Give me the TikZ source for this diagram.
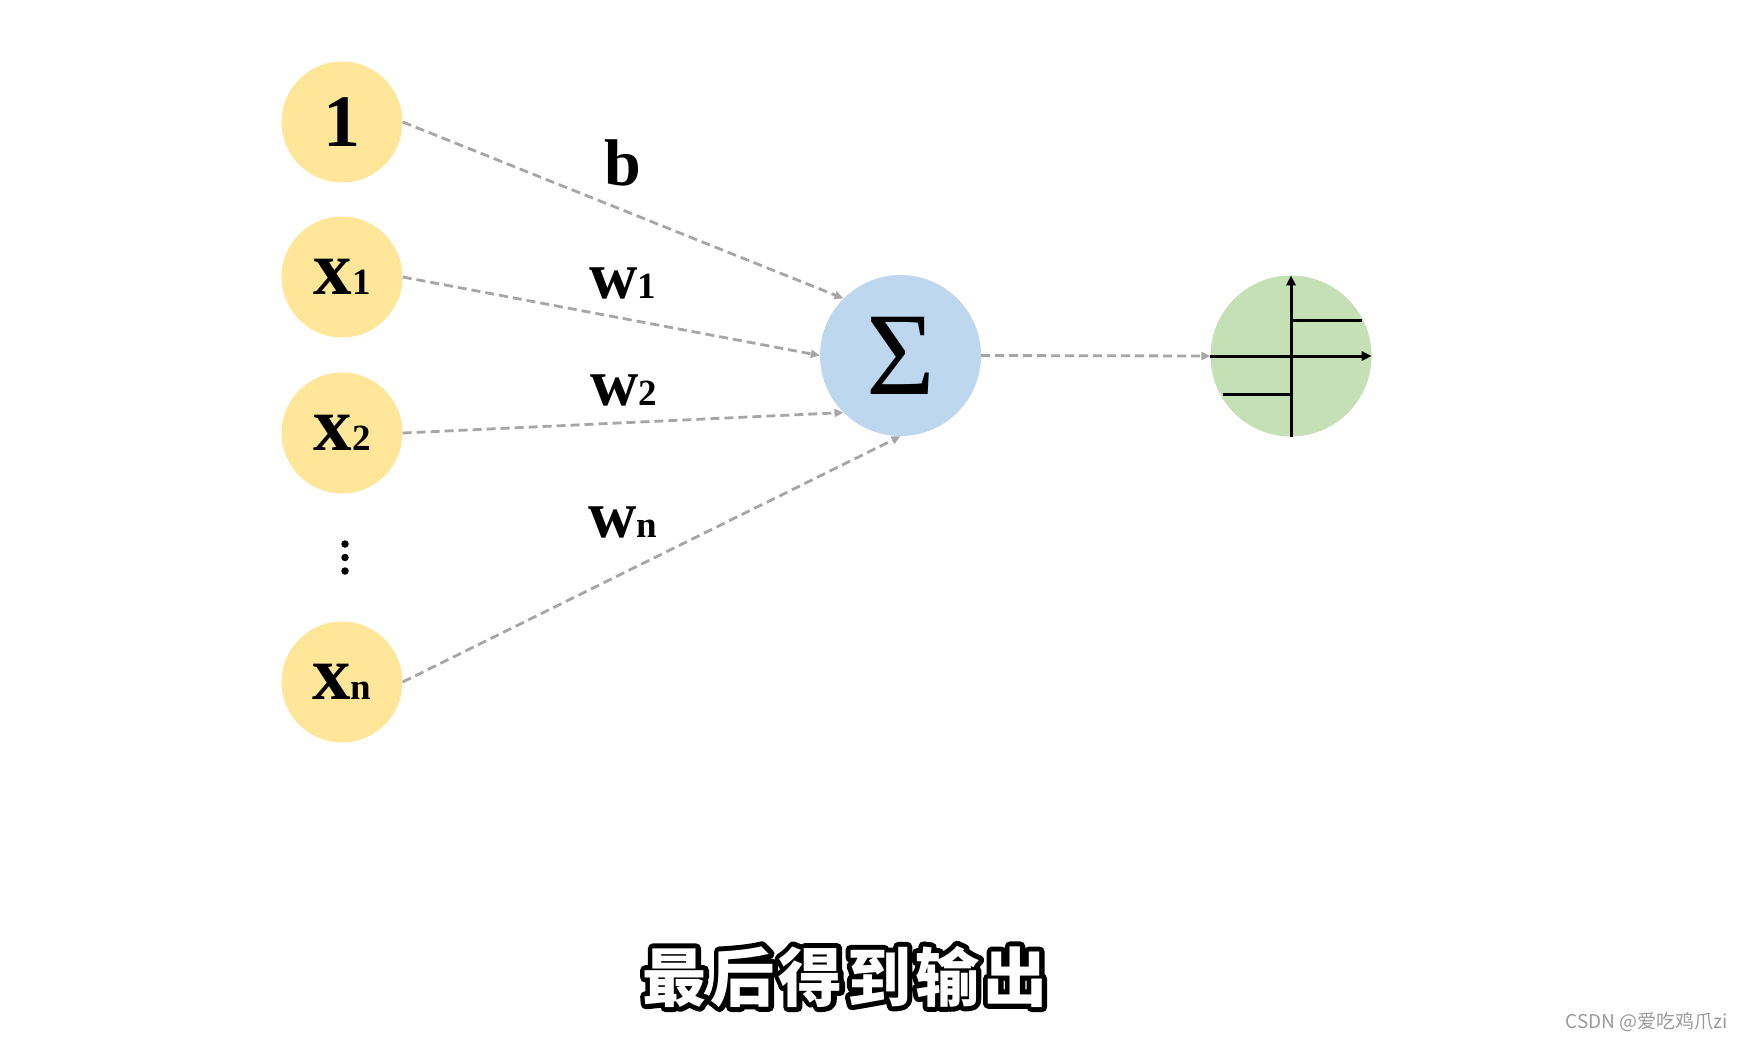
\documentclass[tikz,border=0pt]{standalone}
\usepackage{fontspec}
\setmainfont{Liberation Serif}
\newfontfamily\cjk{Noto Sans CJK SC}
\newfontfamily\cjkwide{Noto Sans CJK SC}[LetterSpace=6.5]
\usetikzlibrary{arrows.meta}
\definecolor{nodeyellow}{HTML}{FFE699}
\definecolor{nodeblue}{HTML}{BDD7EE}
\definecolor{nodegreen}{HTML}{C5E0B4}
\definecolor{conngray}{HTML}{A6A6A6}
\definecolor{markgray}{HTML}{9A9A9A}
\newcommand\fsz[1]{\fontsize{#1}{#1}\selectfont}
\newcommand\subs[1]{{\fsz{37}#1}}
\newcommand\outlinedtext[1]{\special{pdf:literal direct q 2 Tr 10 w 1 j 1 J 0 g 0 G}#1\special{pdf:literal direct Q}}
\begin{document}
\begin{tikzpicture}[x=1pt,y=-1pt,
  inp/.style={circle, fill=nodeyellow, minimum size=121pt, inner sep=0pt, font=\bfseries\fsz{77}},
  sumnode/.style={circle, fill=nodeblue, minimum size=161pt, inner sep=0pt, font=\fsz{118}},
  actnode/.style={circle, fill=nodegreen, minimum size=161pt, inner sep=0pt},
  lbl/.style={anchor=base, inner sep=0pt, font=\bfseries\fsz{67}},
  conn/.style={draw=conngray, line width=2.8pt, dash pattern=on 9pt off 5pt, -{Triangle[length=9pt,width=8pt]}},
  axis/.style={line width=3pt, -{Triangle[length=10pt,width=9pt]}},
  stepline/.style={line width=3pt},
  vdot/.style={circle, fill=black, minimum size=7.5pt, inner sep=0pt},
  subtitle/.style={inner sep=0pt, font=\cjkwide\bfseries\fsz{64}},
  wmark/.style={inner sep=0pt, font=\cjk\fsz{19}, text=markgray}]
\useasboundingbox (0,0) rectangle (1744,1042);
% input nodes
\node[inp] (one) at (342,122) {\fsz{74}1};
\node[inp] (x1) at (342,277) {x\subs{1}};
\node[inp] (x2) at (342,433) {x\subs{2}};
\node[inp] (xn) at (342,682) {x\subs{n}};
\node[vdot] (d1) at (345,544) {};
\node[vdot] (d2) at (345,557.5) {};
\node[vdot] (d3) at (345,571) {};
% sum and activation
\node[sumnode] (sum) at (900.5,355.5) {Σ};
\node[actnode] (act) at (1291,356) {};
% connectors
\draw[conn] (one.east) -- (sum.135);
\draw[conn] (x1.east) -- (sum.west);
\draw[conn] (x2.east) -- (sum.225);
\draw[conn] (xn.east) -- (sum.south);
\draw[conn] (sum.east) -- (act.west);
% labels
\node[lbl, font=\bfseries\fsz{66}] (lb) at (623,185) {b};
\node[lbl] (lw1) at (623,298) {w\subs{1}};
\node[lbl] (lw2) at (624,405) {w\subs{2}};
\node[lbl] (lwn) at (623,537) {w\subs{n}};
% step function inside activation
\draw[axis] (act.south) -- (act.north);
\draw[axis] (act.west) -- (act.east);
\draw[stepline] ([shift={(0,-35.7)}]act.center) -- ([shift={(71.3,-35.7)}]act.center);
\draw[stepline] ([shift={(-68.3,38.7)}]act.center) -- ([shift={(0,38.7)}]act.center);
% subtitle
\node[subtitle] (subb) at (845,976.5) {\outlinedtext{最后得到输出}};
\node[subtitle, text=white] (sub) at (subb.center) {最后得到输出};
% watermark
\node[wmark] (wm) at (1647,1022) {CSDN @爱吃鸡爪zi};
\end{tikzpicture}
\end{document}
